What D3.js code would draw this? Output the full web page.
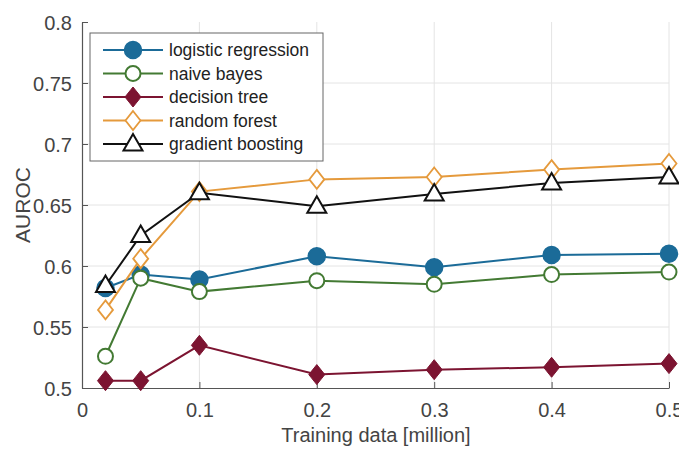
<!DOCTYPE html>
<html>
<head>
<meta charset="utf-8">
<script src="https://cdn.jsdelivr.net/npm/d3@7/dist/d3.min.js"></script>
<style>
  html, body { margin: 0; padding: 0; background: #fff; }
  svg { display: block; font-family: "Liberation Sans", Arial, Helvetica, sans-serif; }
</style>
</head>
<body>
<svg id="chart" width="679" height="449"></svg>
<script>
// Training set sizes (million samples)
const trainingSizes = [0.02, 0.05, 0.1, 0.2, 0.3, 0.4, 0.5];

// AUROC per model
const logisticRegression = [0.582, 0.593, 0.589, 0.608, 0.599, 0.609, 0.610];
const naiveBayes         = [0.526, 0.590, 0.579, 0.588, 0.585, 0.593, 0.595];
const decisionTree       = [0.506, 0.506, 0.535, 0.511, 0.515, 0.517, 0.520];
const randomForest       = [0.564, 0.606, 0.661, 0.671, 0.673, 0.679, 0.684];
const gradientBoosting   = [0.584, 0.625, 0.660, 0.649, 0.659, 0.668, 0.673];

const xTicks = [0, 0.1, 0.2, 0.3, 0.4, 0.5];
const yTicks = [0.5, 0.55, 0.6, 0.65, 0.7, 0.75, 0.8];

const seriesNames  = ["logistic regression", "naive bayes", "decision tree", "random forest", "gradient boosting"];
const seriesValues = [logisticRegression, naiveBayes, decisionTree, randomForest, gradientBoosting];
const seriesColors = ["#1b6b98", "#437a33", "#7c1431", "#e59a3c", "#111111"];
const seriesMarkers = ["circleFilled", "circleOpen", "diamondFilled", "diamondOpen", "triangleOpen"];

const svg = d3.select("#chart");
const plot = { left: 82, right: 669, top: 22, bottom: 388 };

const x = d3.scaleLinear().domain([0, 0.5]).range([plot.left, plot.right]);
const y = d3.scaleLinear().domain([0.5, 0.8]).range([plot.bottom, plot.top]);

// grid
const grid = svg.append("g");
grid.selectAll(".gx").data(xTicks.slice(1)).join("line")
  .attr("x1", d => x(d)).attr("x2", d => x(d))
  .attr("y1", plot.top).attr("y2", plot.bottom)
  .attr("stroke", "#e4e4e4").attr("stroke-width", 1);
grid.selectAll(".gy").data(yTicks.slice(1, -1)).join("line")
  .attr("x1", plot.left).attr("x2", plot.right)
  .attr("y1", d => y(d)).attr("y2", d => y(d))
  .attr("stroke", "#e4e4e4").attr("stroke-width", 1);

// axes (ticks pointing into the plot)
const xAxis = d3.axisBottom(x).tickValues(xTicks).tickSizeInner(-6).tickSizeOuter(0)
  .tickPadding(15).tickFormat(d => String(+d.toFixed(1)));
const yAxis = d3.axisLeft(y).tickValues(yTicks).tickSizeInner(-6).tickSizeOuter(0)
  .tickPadding(10).tickFormat(d => String(+d.toFixed(2)));

const gx = svg.append("g").attr("transform", `translate(0,${plot.bottom})`).call(xAxis);
const gy = svg.append("g").attr("transform", `translate(${plot.left},0)`).call(yAxis);
[gx, gy].forEach(g => {
  g.select(".domain").attr("stroke", "#555").attr("stroke-width", 1.2);
  g.selectAll(".tick line").attr("stroke", "#555").attr("stroke-width", 1);
  g.selectAll(".tick text").attr("fill", "#444").style("font-size", "20px");
});
gx.selectAll(".tick text").attr("dy", "0.71em");
gy.selectAll(".tick text").attr("dy", "0.36em");

// axis labels
svg.append("text").attr("x", 376).attr("y", 442)
  .attr("text-anchor", "middle").attr("fill", "#444").style("font-size", "20px")
  .text("Training data [million]");
svg.append("text")
  .attr("transform", `translate(30,${(plot.top + plot.bottom) / 2}) rotate(-90)`)
  .attr("text-anchor", "middle").attr("fill", "#444").style("font-size", "21px")
  .text("AUROC");

// marker drawing
function drawMarker(g, type, color) {
  if (type === "circleFilled") {
    g.append("circle").attr("r", 8.5).attr("fill", color).attr("stroke", color).attr("stroke-width", 1.5);
  } else if (type === "circleOpen") {
    g.append("circle").attr("r", 7.5).attr("fill", "#fff").attr("stroke", color).attr("stroke-width", 2);
  } else if (type === "diamondFilled") {
    g.append("path").attr("d", "M0,-10L8,0L0,10L-8,0Z").attr("fill", color).attr("stroke", color).attr("stroke-width", 1);
  } else if (type === "diamondOpen") {
    g.append("path").attr("d", "M0,-9.5L7.5,0L0,9.5L-7.5,0Z").attr("fill", "#fff").attr("stroke", color).attr("stroke-width", 1.8);
  } else if (type === "triangleOpen") {
    g.append("path").attr("d", "M0,-10L9.5,6.5L-9.5,6.5Z").attr("fill", "#fff").attr("stroke", color).attr("stroke-width", 2);
  }
}

const line = d3.line().x(d => x(d[0])).y(d => y(d[1]));

seriesValues.forEach((vals, i) => {
  const pts = trainingSizes.map((t, j) => [t, vals[j]]);
  const g = svg.append("g");
  g.append("path").datum(pts).attr("d", line)
    .attr("fill", "none").attr("stroke", seriesColors[i]).attr("stroke-width", 2);
  pts.forEach(p => {
    const m = g.append("g").attr("transform", `translate(${x(p[0])},${y(p[1])})`);
    drawMarker(m, seriesMarkers[i], seriesColors[i]);
  });
});

// legend
const legend = svg.append("g").attr("transform", "translate(90,33)");
legend.append("rect").attr("width", 233).attr("height", 128)
  .attr("fill", "#fff").attr("stroke", "#666").attr("stroke-width", 1);
seriesNames.forEach((name, i) => {
  const ly = 17 + i * 23.5;
  const row = legend.append("g").attr("transform", `translate(0,${ly})`);
  row.append("line").attr("x1", 13).attr("x2", 73).attr("y1", 0).attr("y2", 0)
    .attr("stroke", seriesColors[i]).attr("stroke-width", 2);
  const m = row.append("g").attr("transform", "translate(43,0)");
  drawMarker(m, seriesMarkers[i], seriesColors[i]);
  row.append("text").attr("x", 79).attr("y", 0).attr("dy", "0.36em")
    .attr("fill", "#222").style("font-size", "17.5px").text(name);
});
</script>
</body>
</html>
